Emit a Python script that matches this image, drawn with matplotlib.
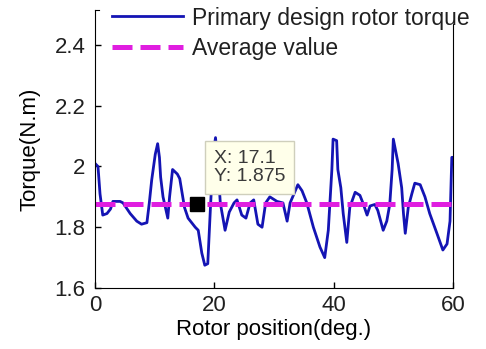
import numpy as np
import matplotlib
matplotlib.use("Agg")
from matplotlib import pyplot as plt
from matplotlib.ticker import FuncFormatter

plt.rcParams['font.family'] = ['Liberation Sans', 'DejaVu Sans']
plt.rcParams['text.color'] = '#202020'
plt.rcParams['xtick.labelcolor'] = '#202020'
plt.rcParams['ytick.labelcolor'] = '#202020'

# rotor torque
position = [0.0, 0.5, 0.84, 1.3, 2.0, 2.6, 3.0, 4.2, 4.7, 5.9, 7.0, 7.8, 8.7,
            9.1, 9.5, 10.1, 10.5, 10.8, 11.0, 11.4, 12.2, 12.5, 13.0, 13.8,
            14.2, 15.0, 15.6, 16.8, 17.3, 17.9, 18.4, 18.9, 19.3, 19.8, 20.2,
            20.6, 21.0, 21.8, 22.5, 23.3, 23.8, 24.6, 25.3, 26.0, 26.6, 27.3,
            28.0, 28.6, 29.3, 30.5, 31.5, 32.2, 32.7, 34.0, 34.7, 35.5, 36.6,
            37.7, 38.5, 39.1, 39.7, 39.9, 40.5, 40.7, 41.2, 41.6, 42.2, 42.7,
            43.6, 44.4, 44.9, 45.6, 46.1, 46.9, 47.4, 48.3, 48.9, 49.4, 49.8,
            50.0, 50.4, 50.8, 51.4, 51.7, 52.0, 52.5, 53.1, 53.6, 54.5, 55.3,
            56.1, 57.3, 58.3, 59.0, 59.5, 59.8, 60.0]
torque = [2.01, 2.00, 1.91, 1.84, 1.845, 1.86, 1.885, 1.885, 1.88, 1.845,
          1.82, 1.81, 1.815, 1.88, 1.955, 2.04, 2.075, 2.03, 1.965, 1.90,
          1.83, 1.90, 1.99, 1.975, 1.96, 1.865, 1.83, 1.80, 1.79, 1.715,
          1.675, 1.68, 1.845, 2.04, 2.095, 2.00, 1.88, 1.79, 1.85, 1.88,
          1.89, 1.84, 1.83, 1.88, 1.89, 1.81, 1.80, 1.88, 1.90, 1.885, 1.88,
          1.82, 1.88, 1.94, 1.92, 1.88, 1.80, 1.735, 1.70, 1.79, 1.99, 2.09,
          2.085, 1.99, 1.93, 1.845, 1.75, 1.865, 1.915, 1.905, 1.88, 1.84,
          1.87, 1.875, 1.855, 1.79, 1.82, 1.875, 1.99, 2.09, 2.05, 2.01,
          1.93, 1.845, 1.78, 1.865, 1.91, 1.945, 1.94, 1.90, 1.845, 1.78,
          1.725, 1.745, 1.82, 2.03, 2.03]
avg_torque = 1.875
tip_x, tip_y = 17.1, 1.875

xticks = [0, 20, 40, 60]
yticks = [1.6, 1.8, 2.0, 2.2, 2.4]

fig = plt.figure(figsize=(4.86, 3.49), dpi=100)
ax = fig.add_axes([95 / 486, 61 / 349, 358 / 486, 278 / 349])

ax.plot(position, torque, color='#1414b4', lw=2.0,
        label='Primary design rotor torque')
ax.axhline(avg_torque, color='#e01ee0', lw=3.6, dashes=(4, 1.6),
           label='Average value')

# data tip
ax.plot(tip_x, tip_y, 's', color='black', ms=10, zorder=5)
ax.annotate('X: %.1f\nY: %.3f' % (tip_x, tip_y), xy=(tip_x, tip_y),
            xytext=(17, 37), textcoords='offset pixels', va='center',
            fontsize=14, color='#3a3a3a', linespacing=1.1,
            bbox=dict(boxstyle='square,pad=0.45', fc='#ffffea', ec='#cfcfbc',
                      lw=1))

ax.set_xlim(0, 60)
ax.set_ylim(1.6, 2.515)
ax.set_xticks(xticks)
ax.set_yticks(yticks)
ax.yaxis.set_major_formatter(FuncFormatter(lambda v, p: ('%g' % v)))
ax.tick_params(direction='in', length=4, labelsize=16, width=1)
ax.tick_params(axis='y', pad=7)
ax.tick_params(axis='x', pad=5)

ax.set_xlabel('Rotor position(deg.)', fontsize=16, labelpad=2)
ax.set_ylabel('Torque(N.m)', fontsize=16, labelpad=10)

ax.spines['top'].set_bounds(0, 0.7)
ax.spines['right'].set_bounds(1.6, 2.47)

ax.legend(loc='upper left', bbox_to_anchor=(112 / 486, 1 - 6.5 / 349),
          bbox_transform=fig.transFigure, frameon=False, fontsize=16.5,
          borderpad=0, borderaxespad=0, handlelength=3.1,
          handletextpad=0.4, labelspacing=0.33)

fig.savefig('out.png', dpi=100)
